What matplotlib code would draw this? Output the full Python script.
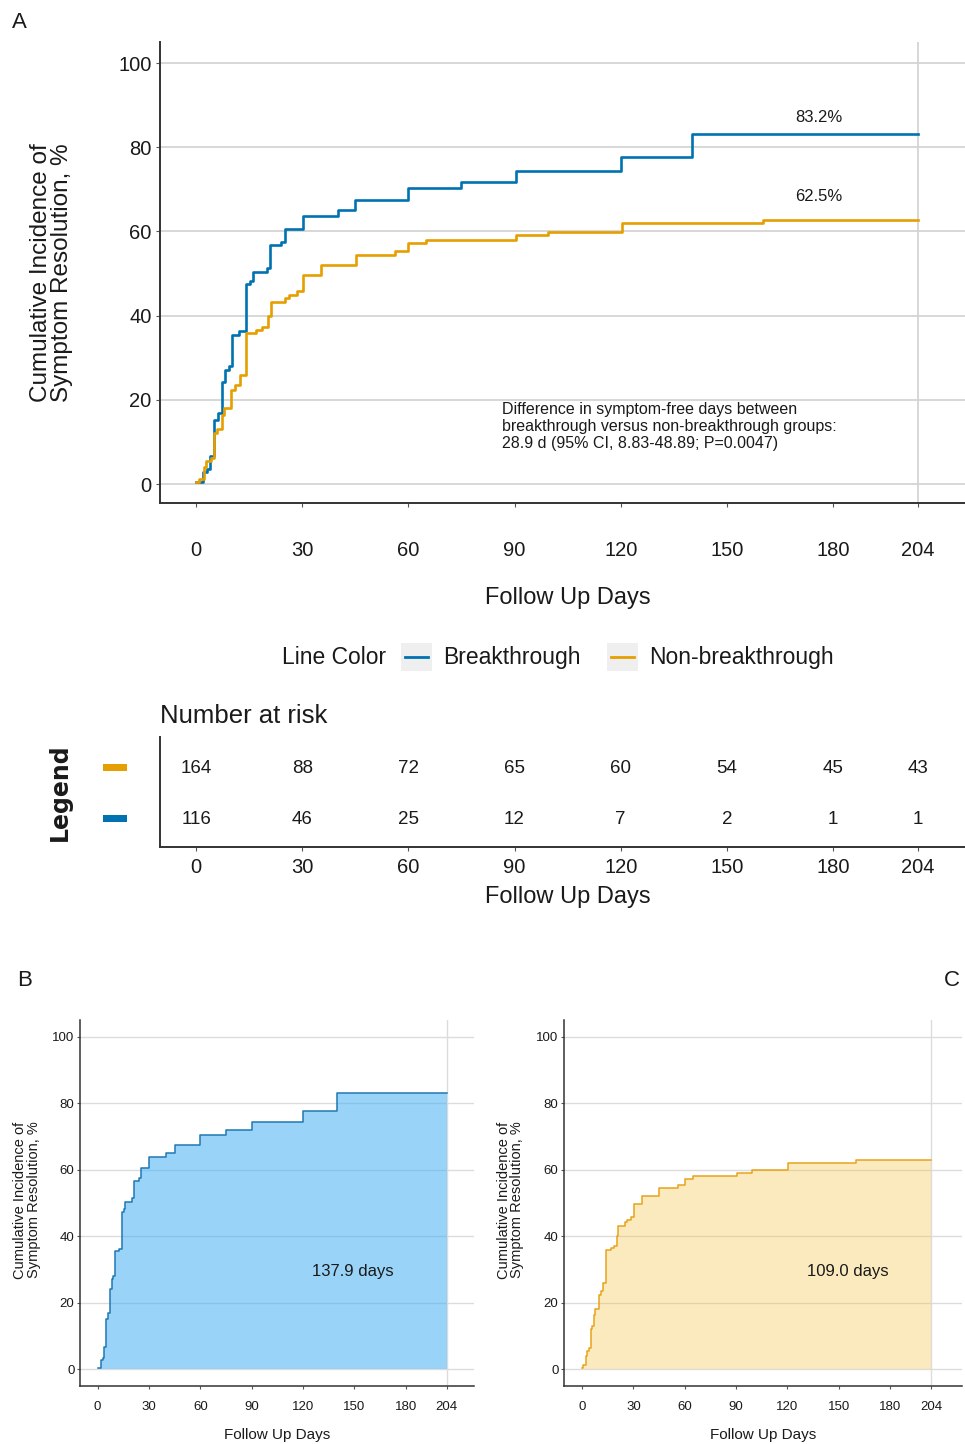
import numpy as np
import matplotlib
matplotlib.use('Agg')
import matplotlib.pyplot as plt
from matplotlib.patches import Rectangle
from matplotlib.lines import Line2D

plt.rcParams['font.family'] = ['Liberation Sans', 'DejaVu Sans']

# cumulative incidence curves (days, %)
bt_days = [0, 1.9, 3.0, 4.0, 5.1, 6.2, 7.2, 8.2, 9.2, 10.1, 12.2, 14.2, 15.3, 16.1, 20.0, 21.0,
           24.0, 25.1, 30.3, 40.0, 45.0, 60.0, 75.0, 90.3, 120.2, 140.1, 204]
bt_inc = [0.4, 2.9, 3.5, 6.6, 15.1, 16.9, 24.3, 27.2, 28.0, 35.5, 36.3, 47.4, 48.2, 50.4, 51.4, 56.7,
          57.6, 60.5, 63.7, 65.0, 67.5, 70.3, 71.8, 74.3, 77.6, 83.2, 83.2]
nbt_days = [0, 0.8, 2.2, 2.8, 4.1, 5.2, 6.0, 7.2, 7.9, 9.9, 11.0, 12.4, 14.2, 16.8, 18.5, 20.2,
            21.2, 25.0, 26.3, 28.4, 30.2, 35.3, 45.2, 56.2, 60.0, 65.0, 90.3, 99.4, 120.3, 160.1, 204]
nbt_inc = [0.4, 1.2, 4.0, 5.4, 6.3, 12.2, 13.0, 16.3, 18.0, 22.4, 23.5, 25.9, 35.8, 36.5, 37.2, 40.0,
           43.2, 44.2, 45.0, 45.8, 49.7, 52.0, 54.4, 55.3, 57.3, 58.0, 59.1, 59.8, 61.9, 62.8, 62.8]

# number at risk table
risk_days = [0, 30, 60, 90, 120, 150, 180, 204]
risk_nbt = [164, 88, 72, 65, 60, 54, 45, 43]
risk_bt = [116, 46, 25, 12, 7, 2, 1, 1]

xticks = [0, 30, 60, 90, 120, 150, 180, 204]
yticks = [0, 20, 40, 60, 80, 100]
end_labels = ['83.2%', '62.5%']
rmst_labels = ['137.9 days', '109.0 days']

blue = '#0072B2'
orange = '#E69F00'
grid_c = '#D4D4D4'
spine_c = '#333333'
txt_c = '#1a1a1a'

W, H = 965, 1444
fig = plt.figure(figsize=(W/100, H/100), dpi=100)

def px_axes(l, t, r, b):
    return fig.add_axes([l/W, 1-b/H, (r-l)/W, (b-t)/H])

def style(ax, lw=1.4):
    for s in ['top', 'right']:
        ax.spines[s].set_visible(False)
    for s in ['left', 'bottom']:
        ax.spines[s].set_color(spine_c)
        ax.spines[s].set_linewidth(lw)
    ax.tick_params(colors='#555555', labelcolor=txt_c)

# ---- panel A
ax = px_axes(160, 42, 965, 503)
style(ax)
for y in yticks:
    ax.axhline(y, color=grid_c, lw=1.3, zorder=0)
ax.axvline(204, color=grid_c, lw=1.3, zorder=0)
ax.step(bt_days, bt_inc, where='post', color=blue, lw=1.9)
ax.step(nbt_days, nbt_inc, where='post', color=orange, lw=1.9)
ax.set_xlim(-10.2, 217.3)
ax.set_ylim(-4.5, 105)
ax.set_xticks(xticks)
ax.set_yticks(yticks)
ax.tick_params(axis='x', length=3, pad=24, labelsize=14.5)
ax.tick_params(axis='y', length=3, pad=3, labelsize=14.5)
ax.text(176, 87, end_labels[0], fontsize=12, ha='center', va='center', color=txt_c)
ax.text(176, 68.4, end_labels[1], fontsize=12, ha='center', va='center', color=txt_c)
ax.text(86.5, 19.4, 'Difference in symptom-free days between\n'
        'breakthrough versus non-breakthrough groups:\n'
        '28.9 d (95% CI, 8.83-48.89; P=0.0047)',
        fontsize=11.5, ha='left', va='top', color=txt_c, linespacing=1.15)
ax.set_xlabel('Follow Up Days', fontsize=17, color=txt_c)
ax.xaxis.set_label_coords(0.507, -0.182)
ax.set_ylabel('Cumulative Incidence of\nSymptom Resolution, %', fontsize=17.5, color=txt_c,
              linespacing=0.95)
ax.yaxis.set_label_coords(-0.108, 0.5)

# legend row
fig.text(334/W, 1-657/H, 'Line Color', fontsize=16.5, ha='center', va='center', color=txt_c)
for x0, c, lab in [(401, blue, 'Breakthrough'), (607, orange, 'Non-breakthrough')]:
    fig.add_artist(Rectangle((x0/W, 1-671/H), 31/W, 28/H, transform=fig.transFigure,
                             facecolor='#EFEFEF', edgecolor='none'))
    fig.add_artist(Line2D([(x0+4)/W, (x0+27)/W], [1-657/H, 1-657/H], transform=fig.transFigure,
                          color=c, lw=2))
    fig.text((x0+42)/W, 1-657/H, lab, fontsize=16.5, ha='left', va='center', color=txt_c)

# ---- number at risk
rt = px_axes(160, 737, 965, 847)
style(rt)
rt.set_xlim(-10.2, 217.3)
rt.set_ylim(0.451, 2.608)
for d, n1, n2 in zip(risk_days, risk_nbt, risk_bt):
    rt.text(d, 2, str(n1), ha='center', va='center', fontsize=13.5, color=txt_c)
    rt.text(d, 1, str(n2), ha='center', va='center', fontsize=13.5, color=txt_c)
rt.set_xticks(xticks)
rt.set_yticks([])
rt.tick_params(axis='x', length=3, pad=5, labelsize=14.5)
rt.set_xlabel('Follow Up Days', fontsize=17, color=txt_c)
rt.xaxis.set_label_coords(0.507, -0.35)
rt.set_title('Number at risk', loc='left', fontsize=18.5, pad=10, color=txt_c)
fig.add_artist(Rectangle((103/W, 1-771/H), 24/W, 7/H, transform=fig.transFigure,
                         facecolor=orange, edgecolor='none'))
fig.add_artist(Rectangle((103/W, 1-822/H), 24/W, 7/H, transform=fig.transFigure,
                         facecolor=blue, edgecolor='none'))
fig.text(60/W, 1-792/H, 'Legend', rotation=90, fontsize=17, fontweight='semibold',
         ha='center', va='center', color=txt_c, family=['DejaVu Sans'])

# ---- panels B and C
def small_panel(rect, xlim, days, inc, line_c, fill_c, fill_a, label, lab_x):
    a = px_axes(*rect)
    style(a, lw=1.1)
    for y in yticks:
        a.axhline(y, color='#DCDCDC', lw=1.0, zorder=0)
    a.axvline(204, color='#DCDCDC', lw=1.0, zorder=0)
    a.fill_between(days, inc, step='post', color=fill_c, alpha=fill_a, lw=0, zorder=1)
    a.step(days, inc, where='post', color=line_c, lw=1.1, zorder=2)
    a.set_xlim(*xlim)
    a.set_ylim(-5, 105)
    a.set_xticks(xticks)
    a.set_yticks(yticks)
    a.tick_params(axis='x', length=2.5, pad=8, labelsize=9.5)
    a.tick_params(axis='y', length=2.5, pad=1.5, labelsize=9.5)
    a.text(lab_x, 29.5, label, fontsize=12, ha='center', va='center', color=txt_c)
    a.set_xlabel('Follow Up Days', fontsize=11, color=txt_c)
    a.xaxis.set_label_coords(0.5, -0.115)
    a.set_ylabel('Cumulative Incidence of\nSymptom Resolution, %', fontsize=10.5, color=txt_c,
                 linespacing=0.95)
    a.yaxis.set_label_coords(-0.10, 0.508)
    return a

small_panel((80, 1020, 474, 1386), (-10.3, 219.9), bt_days, bt_inc,
            '#1F78B4', '#3FAEF2', 0.53, rmst_labels[0], 149)
small_panel((564, 1020, 962, 1386), (-10.5, 222), nbt_days, nbt_inc,
            '#E8A31A', '#F7C548', 0.35, rmst_labels[1], 155.5)

fig.text(19/W, 1-22/H, 'A', fontsize=16, ha='center', va='center', color=txt_c)
fig.text(25/W, 1-980/H, 'B', fontsize=16, ha='center', va='center', color=txt_c)
fig.text(952/W, 1-980/H, 'C', fontsize=16, ha='center', va='center', color=txt_c)

fig.savefig('out.png', dpi=100, facecolor='white')
